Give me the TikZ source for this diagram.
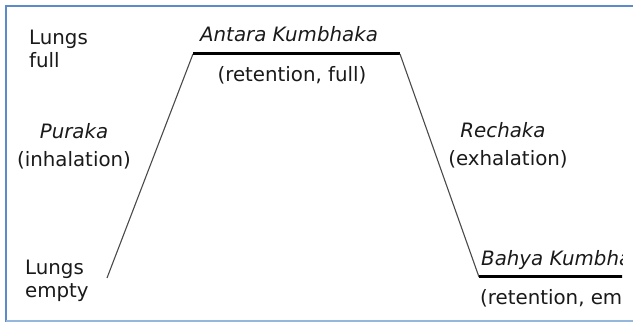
\documentclass[tikz,border=0pt]{standalone}
\usepackage{fontspec}
\setmainfont{DejaVu Sans}
\definecolor{ink}{HTML}{1A1A1A}
\definecolor{slopegray}{HTML}{4A4A4A}
\definecolor{frameblue}{HTML}{5B8BC9}
\definecolor{framelight}{HTML}{95B6DD}
\begin{document}
\begin{tikzpicture}[x=1pt,y=-1pt,
  lbl/.style={inner sep=0pt, text=ink, font=\fontsize{19.8}{23}\selectfont},
  ital/.style={lbl, font=\fontsize{19.8}{23}\selectfont\itshape},
  plateau/.style={line width=3pt, black},
  slope/.style={line width=1.1pt, slopegray}]
\useasboundingbox (0,0) rectangle (633,323);
\fill[white] (0,0) rectangle (633,323);

\begin{scope}
\clip (0,0) rectangle (622,323);
% breathing cycle: corners of the trace
\coordinate (emptyStart) at (107,278);
\coordinate (fullL) at (193,54);
\coordinate (fullR) at (400,54);
\coordinate (emptyL) at (479,277);
\coordinate (emptyR) at (700,277);

\draw[slope] (emptyStart) -- (fullL);
\draw[plateau] (fullL) -- (fullR);
\draw[slope] (fullR) -- (emptyL);
\draw[plateau] (emptyL) -- (emptyR);

% labels
\node[lbl, anchor=base west] (full1) at (29,45) {Lungs};
\node[lbl, anchor=base west] (full2) at (29,68) {full};
\node[ital, anchor=base] (antara) at (289,42) {Antara Kumbhaka};
\node[lbl, anchor=base] (antaraSub) at (292,82) {(retention, full)};
\node[ital, anchor=base] (puraka) at (74,139) {Puraka};
\node[lbl, anchor=base] (purakaSub) at (74,167) {(inhalation)};
\node[lbl, anchor=base west] (empty1) at (25,275) {Lungs};
\node[lbl, anchor=base west] (empty2) at (25,298) {empty};
\node[ital, anchor=base] (rechaka) at (503,138) {Rechaka};
\node[lbl, anchor=base] (rechakaSub) at (508,166) {(exhalation)};
\node[ital, anchor=base west] (bahya) at (481,266) {Bahya Kumbhaka};
\node[lbl, anchor=base west] (bahyaSub) at (480,305) {(retention, empty)};
\end{scope}

% frame
\draw[frameblue, line width=2pt] (5.5,322) -- (5.5,6) -- (633,6);
\draw[framelight, line width=2pt] (5.5,321) -- (633,321);
\end{tikzpicture}
\end{document}
